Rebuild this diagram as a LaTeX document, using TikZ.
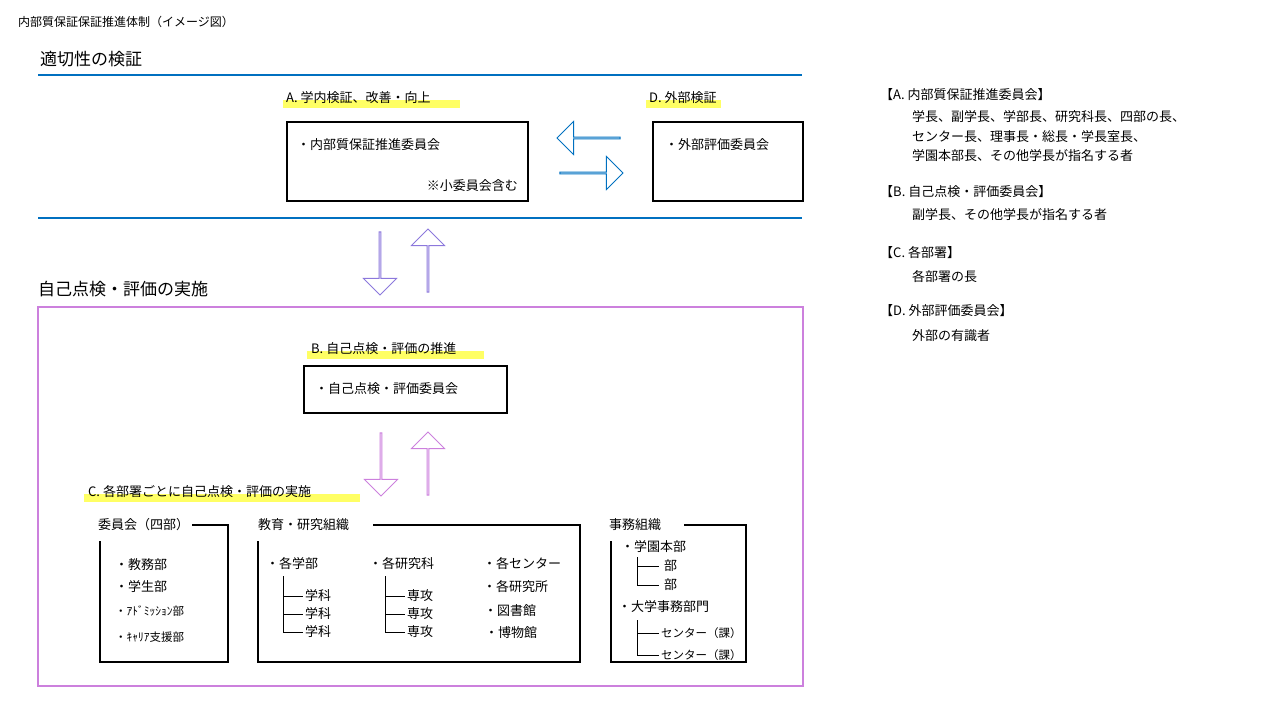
\documentclass[tikz,border=0pt]{standalone}
\usepackage{fontspec}
\setmainfont{Noto Sans CJK JP}
\usetikzlibrary{positioning, shapes.arrows}
\definecolor{lineblue}{RGB}{0,112,192}
\definecolor{boxpurple}{RGB}{204,128,221}
\definecolor{mixblue}{RGB}{140,120,220}
\definecolor{hlyellow}{RGB}{255,255,100}

\begin{document}
\begin{tikzpicture}[x=1pt, y=-1pt,
    txt/.style={anchor=west, inner sep=0pt, font=\fontsize{13}{15}\selectfont},
    small/.style={anchor=west, inner sep=0pt, font=\fontsize{11.5}{13}\selectfont},
    head/.style={anchor=west, inner sep=0pt, font=\fontsize{17}{19}\selectfont},
    box/.style={draw, line width=1.2pt},
    blk/.style={single arrow, draw, line width=1pt, inner sep=0pt, minimum width=33pt,
        minimum height=63pt, single arrow head extend=8pt, single arrow tip angle=90},
    tree/.style={line width=0.8pt}]
    \useasboundingbox (0,0) rectangle (1280,720);

    % Title
    \node[txt, font=\fontsize{12}{14}\selectfont] (title) at (18,22) {内部質保証保証推進体制（イメージ図）};

    % Upper section
    \node[head] (sec1) at (40,59) {適切性の検証};
    \draw[lineblue, line width=1.3pt] (38,75) -- (802,75);
    \draw[lineblue, line width=1.3pt] (38,218) -- (802,218);

    \fill[hlyellow] (283,100) rectangle (460,108);
    \node[txt] (labA) at (286,98) {A. 学内検証、改善・向上};
    \fill[hlyellow] (646,100) rectangle (721,108);
    \node[txt] (labD) at (649,98) {D. 外部検証};

    \draw[box] (287,122) rectangle (528,201);
    \node[txt] (boxA) at (297,145) {・内部質保証推進委員会};
    \node[txt, anchor=east] (subA) at (518,186) {※小委員会含む};
    \draw[box] (653,122) rectangle (803,201);
    \node[txt] (boxD) at (665,145) {・外部評価委員会};

    \node[blk, draw=lineblue, shape border rotate=180] (toA) at (589,138) {};
    \node[blk, draw=lineblue] (toD) at (591,173) {};
    \node[blk, draw=mixblue, shape border rotate=270] (downA) at (380,263) {};
    \node[blk, draw=mixblue, shape border rotate=90] (upA) at (428,261) {};

    % Lower section
    \node[head] (sec2) at (38,289) {自己点検・評価の実施};
    \draw[boxpurple, line width=1.3pt] (38,307) rectangle (803,686);

    \fill[hlyellow] (307,351) rectangle (484,359);
    \node[txt] (labB) at (311,349) {B. 自己点検・評価の推進};
    \draw[box] (304,366) rectangle (507,413);
    \node[txt] (boxB) at (315,389) {・自己点検・評価委員会};

    \node[blk, draw=boxpurple, shape border rotate=270] (downB) at (381,464) {};
    \node[blk, draw=boxpurple, shape border rotate=90] (upB) at (428,464) {};

    \fill[hlyellow] (84,494) rectangle (360,502);
    \node[txt] (labC) at (88,492) {C. 各部署ごとに自己点検・評価の実施};

    % Committees
    \node[txt] (grp1) at (98,525) {委員会（四部）};
    \draw[box] (192,525) -- (228,525) -- (228,662) -- (100,662) -- (100,541);
    \node[txt] (c1) at (115,565) {・教務部};
    \node[txt] (c2) at (115,587) {・学生部};
    \node[small] (c3) at (115,611) {・ｱﾄﾞﾐｯｼｮﾝ部};
    \node[small] (c4) at (115,637) {・ｷｬﾘｱ支援部};

    % Education and research
    \node[txt] (grp2) at (258,525) {教育・研究組織};
    \draw[box] (373,525) -- (580,525) -- (580,662) -- (258,662) -- (258,541);
    \node[txt] (f1) at (266,564) {・各学部};
    \draw[tree] (283,576) -- (283,632) -- (303,632) (283,596) -- (303,596) (283,614) -- (303,614);
    \foreach \y in {596,614,632} \node[txt] at (305,\y) {学科};
    \node[txt] (g1) at (369,564) {・各研究科};
    \draw[tree] (385,576) -- (385,632) -- (405,632) (385,596) -- (405,596) (385,614) -- (405,614);
    \foreach \y in {596,614,632} \node[txt] at (407,\y) {専攻};
    \node[txt] (o1) at (483,564) {・各センター};
    \node[txt] (o2) at (483,587) {・各研究所};
    \node[txt] (o3) at (484,611) {・図書館};
    \node[txt] (o4) at (485,633) {・博物館};

    % Administration
    \node[txt] (grp3) at (609,525) {事務組織};
    \draw[box] (684,525) -- (746,525) -- (746,662) -- (611,662) -- (611,541);
    \node[txt] (a1) at (621,547) {・学園本部};
    \draw[tree] (637,557) -- (637,585) -- (659,585) (637,566) -- (659,566);
    \node[txt] at (664,566) {部};
    \node[txt] at (664,585) {部};
    \node[txt] (a2) at (618,607) {・大学事務部門};
    \draw[tree] (637,620) -- (637,655) -- (659,655) (637,633) -- (659,633);
    \node[small] at (661,633) {センター（課）};
    \node[small] at (661,655) {センター（課）};

    % Legend
    \node[txt] (legA) at (880,95) {【A. 内部質保証推進委員会】};
    \node[txt] at (912,117) {学長、副学長、学部長、研究科長、四部の長、};
    \node[txt] at (912,137) {センター長、理事長・総長・学長室長、};
    \node[txt] at (912,156) {学園本部長、その他学長が指名する者};
    \node[txt] (legB) at (880,192) {【B. 自己点検・評価委員会】};
    \node[txt] at (912,215) {副学長、その他学長が指名する者};
    \node[txt] (legC) at (880,253) {【C. 各部署】};
    \node[txt] at (912,277) {各部署の長};
    \node[txt] (legD) at (880,311) {【D. 外部評価委員会】};
    \node[txt] at (912,336) {外部の有識者};
\end{tikzpicture}
\end{document}
